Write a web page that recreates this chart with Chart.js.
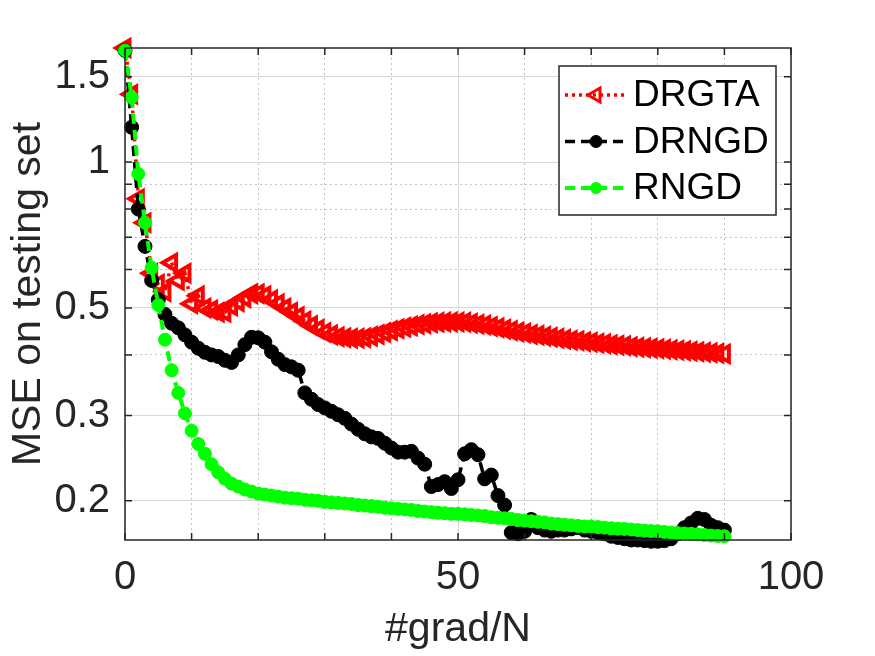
<!DOCTYPE html>
<html>
<head>
<meta charset="utf-8">
<script src="https://cdn.jsdelivr.net/npm/chart.js@4.4.1/dist/chart.umd.min.js"></script>
<style>
    html, body { margin: 0; padding: 0; background: #ffffff; }
    #wrap { width: 875px; height: 656px; position: relative; }
</style>
</head>
<body>
<div id="wrap"><canvas id="mse-chart"></canvas></div>
<script>
// x positions (#grad/N), one point per pass
const gradN = [
    0, 1, 2, 3, 4, 5, 6, 7, 8, 9, 10, 11, 12, 13, 14, 15, 16, 17, 18, 19,
    20, 21, 22, 23, 24, 25, 26, 27, 28, 29, 30, 31, 32, 33, 34, 35, 36, 37, 38, 39,
    40, 41, 42, 43, 44, 45, 46, 47, 48, 49, 50, 51, 52, 53, 54, 55, 56, 57, 58, 59,
    60, 61, 62, 63, 64, 65, 66, 67, 68, 69, 70, 71, 72, 73, 74, 75, 76, 77, 78, 79,
    80, 81, 82, 83, 84, 85, 86, 87, 88, 89, 90
];

const drgta = [
    1.72, 1.38, 0.84, 0.75, 0.59, 0.56, 0.54, 0.62, 0.57, 0.59,
    0.51, 0.53, 0.50, 0.495, 0.49, 0.49, 0.505, 0.515, 0.525, 0.535,
    0.535, 0.53, 0.52, 0.51, 0.50, 0.49, 0.48, 0.47, 0.46, 0.452,
    0.445, 0.44, 0.436, 0.434, 0.433, 0.433, 0.434, 0.437, 0.441, 0.445,
    0.449, 0.453, 0.456, 0.459, 0.462, 0.464, 0.466, 0.467, 0.468, 0.468,
    0.468, 0.467, 0.465, 0.463, 0.461, 0.458, 0.455, 0.452, 0.449, 0.446,
    0.444, 0.441, 0.439, 0.437, 0.435, 0.433, 0.431, 0.429, 0.428, 0.426,
    0.425, 0.423, 0.422, 0.42, 0.419, 0.418, 0.416, 0.415, 0.414, 0.413,
    0.412, 0.411, 0.41, 0.409, 0.408, 0.407, 0.406, 0.405, 0.404, 0.403,
    0.402
];

const drngd = [
    1.70, 1.18, 0.80, 0.67, 0.57, 0.52, 0.485, 0.465, 0.455, 0.44,
    0.425, 0.413, 0.405, 0.40, 0.397, 0.39, 0.386, 0.40, 0.42, 0.435,
    0.434, 0.425, 0.406, 0.392, 0.382, 0.378, 0.372, 0.334, 0.324, 0.316,
    0.311, 0.306, 0.301, 0.296, 0.288, 0.281, 0.275, 0.271, 0.269, 0.263,
    0.257, 0.252, 0.252, 0.253, 0.245, 0.238, 0.214, 0.216, 0.219, 0.212,
    0.221, 0.25, 0.255, 0.249, 0.222, 0.226, 0.205, 0.196, 0.172, 0.171,
    0.173, 0.183, 0.176, 0.174, 0.173, 0.174, 0.174, 0.175, 0.176, 0.174,
    0.173, 0.172, 0.171, 0.169, 0.168, 0.167, 0.166, 0.166, 0.1655, 0.165,
    0.165, 0.1655, 0.167, 0.171, 0.176, 0.18, 0.184, 0.183, 0.178, 0.176,
    0.174
];

const rngd = [
    1.70, 1.36, 0.945, 0.75, 0.605, 0.507, 0.43, 0.372, 0.334, 0.303,
    0.279, 0.262, 0.25, 0.238, 0.229, 0.222, 0.217, 0.214, 0.211, 0.209,
    0.207, 0.206, 0.205, 0.204, 0.203, 0.2025, 0.202, 0.201, 0.2005, 0.2,
    0.199, 0.1985, 0.198, 0.1975, 0.197, 0.196, 0.1955, 0.195, 0.1945, 0.1935,
    0.193, 0.1925, 0.192, 0.1915, 0.1905, 0.19, 0.1895, 0.189, 0.1885, 0.188,
    0.188, 0.1875, 0.187, 0.1865, 0.186, 0.185, 0.1845, 0.184, 0.1835, 0.1825,
    0.182, 0.1815, 0.181, 0.1805, 0.1795, 0.179, 0.1785, 0.178, 0.1775, 0.177,
    0.177, 0.1765, 0.176, 0.1755, 0.1752, 0.175, 0.1745, 0.174, 0.1735, 0.1732,
    0.173, 0.1725, 0.172, 0.1715, 0.1712, 0.171, 0.1705, 0.17, 0.1695, 0.1692,
    0.169
];

const seriesNames = ['DRGTA', 'DRNGD', 'RNGD'];

// axis ticks
const xTicks = [0, 10, 20, 30, 40, 50, 60, 70, 80, 90, 100];
const xLabels = [0, 50, 100];
const yTicks = [0.2, 0.3, 0.4, 0.5, 0.6, 0.7, 0.8, 0.9, 1, 1.5];
const yLabels = [0.2, 0.3, 0.5, 1, 1.5];

const axisColor = '#262626';
const font = 'Liberation Sans, Arial, sans-serif';

function toPoints(ys) {
    return ys.map((y, i) => ({x: gradN[i], y: y}));
}

// box around the axes + inward tick marks, like the original figure
const framePlugin = {
    id: 'frame',
    afterDatasetsDraw(chart) {
        const {ctx, chartArea: a, scales} = chart;
        ctx.save();
        ctx.strokeStyle = axisColor;
        ctx.lineWidth = 1.5;
        ctx.setLineDash([]);
        ctx.strokeRect(a.left, a.top, a.right - a.left, a.bottom - a.top);
        ctx.beginPath();
        xTicks.forEach(v => {
            const px = scales.x.getPixelForValue(v);
            ctx.moveTo(px, a.bottom); ctx.lineTo(px, a.bottom - 7);
            ctx.moveTo(px, a.top); ctx.lineTo(px, a.top + 7);
        });
        yTicks.forEach(v => {
            const py = scales.y.getPixelForValue(v);
            ctx.moveTo(a.left, py); ctx.lineTo(a.left + 7, py);
            ctx.moveTo(a.right, py); ctx.lineTo(a.right - 7, py);
        });
        ctx.stroke();
        ctx.restore();
    }
};

// legend inside the axes, top right corner
const boxLegendPlugin = {
    id: 'boxLegend',
    afterDraw(chart) {
        const {ctx, chartArea: a} = chart;
        const w = 217, h = 149;
        const left = a.right - 15 - w, top = a.top + 18;
        ctx.save();
        ctx.fillStyle = '#ffffff';
        ctx.fillRect(left, top, w, h);
        ctx.strokeStyle = axisColor;
        ctx.lineWidth = 1.5;
        ctx.strokeRect(left, top, w, h);

        chart.data.datasets.forEach((ds, i) => {
            const cy = top + 29 + i * 46.5;
            ctx.strokeStyle = ds.borderColor;
            ctx.lineWidth = ds.borderWidth;
            ctx.setLineDash(ds.borderDash);
            ctx.beginPath();
            ctx.moveTo(left + 6, cy);
            ctx.lineTo(left + 66, cy);
            ctx.stroke();
            ctx.setLineDash([]);
            ctx.fillStyle = ds.pointBackgroundColor;
            ctx.strokeStyle = ds.pointBorderColor;
            ctx.lineWidth = Math.min(ds.pointBorderWidth, 3);
            Chart.helpers.drawPoint(ctx, {
                pointStyle: ds.pointStyle,
                rotation: ds.pointRotation,
                radius: ds.pointRadius - 1,
                borderWidth: Math.min(ds.pointBorderWidth, 3)
            }, left + 37, cy);
            ctx.fillStyle = '#000000';
            ctx.font = '37px ' + font;
            ctx.textBaseline = 'middle';
            ctx.fillText(ds.label, left + 74, cy + 1);
        });
        ctx.restore();
    }
};

const ctx = document.getElementById('mse-chart');
new Chart(ctx, {
    type: 'line',
    data: {
        datasets: [
            {
                label: seriesNames[0],
                data: toPoints(drgta),
                borderColor: '#ff0000',
                borderWidth: 3.5,
                borderDash: [3, 4],
                pointStyle: 'triangle',
                pointRotation: -90,
                pointRadius: 9,
                pointBorderWidth: 4,
                pointBorderColor: '#ff0000',
                pointBackgroundColor: 'rgba(255,255,255,0)',
                clip: false,
                order: 3
            },
            {
                label: seriesNames[1],
                data: toPoints(drngd),
                borderColor: '#000000',
                borderWidth: 3.5,
                borderDash: [10, 6],
                pointStyle: 'circle',
                pointRadius: 7,
                pointBorderWidth: 1,
                pointBorderColor: '#000000',
                pointBackgroundColor: '#000000',
                clip: false,
                order: 2
            },
            {
                label: seriesNames[2],
                data: toPoints(rngd),
                borderColor: '#00ff00',
                borderWidth: 4,
                borderDash: [10, 6],
                pointStyle: 'circle',
                pointRadius: 6.5,
                pointBorderWidth: 1,
                pointBorderColor: '#00ff00',
                pointBackgroundColor: '#00ff00',
                clip: false,
                order: 1
            }
        ]
    },
    options: {
        animation: false,
        responsive: true,
        maintainAspectRatio: false,
        devicePixelRatio: 1,
        layout: {
            padding: {top: 48, right: 84, left: 0, bottom: 0}
        },
        elements: {
            line: {tension: 0}
        },
        plugins: {
            legend: {display: false},
            tooltip: {enabled: false}
        },
        scales: {
            x: {
                type: 'linear',
                min: 0,
                max: 100,
                afterBuildTicks: (scale) => {
                    scale.ticks = xTicks.map(v => ({value: v}));
                },
                afterFit: (scale) => {
                    scale.height = 116;
                },
                ticks: {
                    autoSkip: false,
                    maxRotation: 0,
                    padding: 14,
                    color: axisColor,
                    font: {family: font, size: 40},
                    callback: (value) => xLabels.includes(value) ? String(value) : ''
                },
                grid: {
                    drawTicks: false,
                    lineWidth: 1,
                    color: (c) => c.tick && c.tick.value === 50 ? '#d9d9d9' : '#c4c4c4'
                },
                border: {
                    display: false,
                    dash: (c) => c.tick && c.tick.value === 50 ? [] : [2, 3]
                },
                title: {
                    display: true,
                    text: '#grad/N',
                    color: axisColor,
                    font: {family: font, size: 41},
                    padding: {top: 2, bottom: 2}
                }
            },
            y: {
                type: 'logarithmic',
                min: 0.166,
                max: 1.72,
                afterBuildTicks: (scale) => {
                    scale.ticks = yTicks.map(v => ({value: v}));
                },
                afterFit: (scale) => {
                    scale.width = 125;
                },
                ticks: {
                    autoSkip: false,
                    padding: 15,
                    color: axisColor,
                    font: {family: font, size: 40},
                    callback: (value) => yLabels.includes(value) ? String(value) : ''
                },
                grid: {
                    drawTicks: false,
                    lineWidth: 1,
                    color: (c) => c.tick && yLabels.includes(c.tick.value) ? '#d9d9d9' : '#c4c4c4'
                },
                border: {
                    display: false,
                    dash: (c) => c.tick && yLabels.includes(c.tick.value) ? [] : [2, 3]
                },
                title: {
                    display: true,
                    text: 'MSE on testing set',
                    color: axisColor,
                    font: {family: font, size: 41},
                    padding: {top: 4, bottom: 4}
                }
            }
        }
    },
    plugins: [framePlugin, boxLegendPlugin]
});
</script>
</body>
</html>
